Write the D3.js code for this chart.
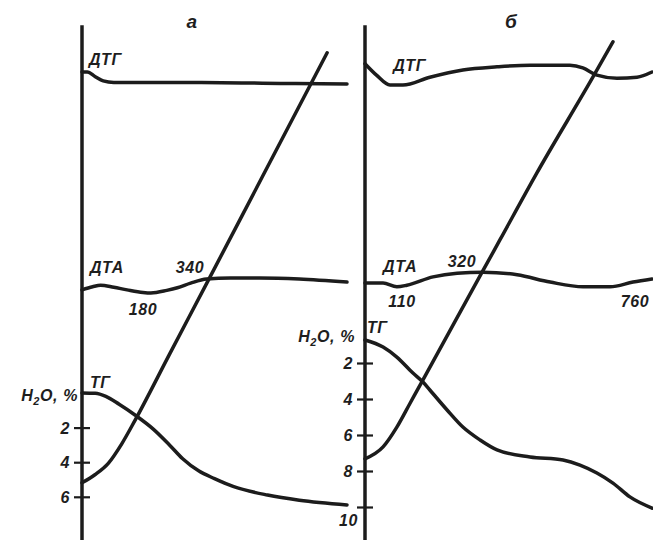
<!DOCTYPE html>
<html>
<head>
<meta charset="utf-8">
<script src="https://cdn.jsdelivr.net/npm/d3@7"></script>
<style>
    body { margin: 0; background: #fff; }
    svg text {
        font-family: "Liberation Sans", Arial, sans-serif;
        font-weight: bold;
        font-style: italic;
        font-size: 16px;
        fill: #1e1e1e;
        letter-spacing: 0.6px;
    }
</style>
</head>
<body>
<script>
// panel titles and curve names
var panelTitles = ["а", "б"];
var curveNames = ["ДТГ", "ДТА", "ТГ"];

// ticks of the water loss axis (H2O, %)
var tgTicksA = [2, 4, 6];
var tgTicksB = [2, 4, 6, 8, 10];

// temperatures of the DTA effects, °C
var dtaTempsA = [180, 340];
var dtaTempsB = [110, 320, 760];

// curves as [time, deflection], both in relative units 0-100
var dtgA = [[0, 90.0], [2, 90.0], [5, 89.1], [8, 88.3], [12, 88.0], [45, 88.0], [75, 87.8], [100, 87.7]];
var dtaA = [[0, 48.1], [4, 48.7], [7, 49.0], [12, 48.6], [17, 48.1], [23, 47.6], [26, 47.5], [32, 48.0],
            [36, 48.5], [41, 49.4], [47, 50.2], [56, 50.4], [67, 50.4], [82, 50.2], [100, 49.6]];
var heatA = [[0, 11.0], [5, 12.6], [10, 14.8], [15, 18.5], [20, 23.0], [33, 35.7], [47, 49.3],
             [68, 69.8], [92.5, 93.7]];
// TG curve as [time, H2O %]
var tgA = [[0, 0], [5, 0.02], [9, 0.2], [14, 0.65], [20, 1.27], [27, 2.1], [33, 3.0], [38, 3.8],
           [44, 4.5], [50, 4.95], [57, 5.4], [70, 5.9], [82, 6.2], [100, 6.47]];

var dtgB = [[0, 91.6], [4, 89.4], [8.7, 87.5], [13.2, 87.5], [22.6, 89.0], [34.1, 90.4], [46, 91.0],
            [57.5, 91.3], [71.4, 91.3], [75.9, 90.8], [80.8, 89.4], [87.8, 88.8], [94.8, 89.0], [100, 90.0]];
var dtaB = [[0, 49.4], [6.3, 49.4], [11.1, 48.7], [14.6, 49.0], [23.7, 50.6], [32.1, 51.3], [41.1, 51.5],
            [53, 51.0], [64.5, 49.6], [76, 48.7], [85.4, 48.7], [93.4, 49.6], [100, 50.2]];
var heatB = [[0, 15.6], [6.3, 17.9], [11.1, 21.7], [15.7, 26.3], [20.2, 30.8], [40.8, 51.5], [47, 57.7],
             [59.9, 70.6], [79.4, 89.0], [86.4, 95.8]];
var tgB = [[0, 0.72], [6.3, 1.11], [11.1, 1.67], [16.7, 2.56], [20.2, 3.06], [22.6, 3.5], [28.6, 4.61],
           [34.1, 5.56], [40.1, 6.28], [46, 6.83], [57.5, 7.22], [69, 7.39], [74.9, 7.67], [80.8, 8.11],
           [86.4, 8.67], [92.3, 9.44], [100, 10.06]];

var width = 653,
    height = 543,
    ink = "#1c1c1c";

var svg = d3.select("body").append("svg")
    .attr("width", width)
    .attr("height", height);

// shared vertical scale for the relative curves
var y = d3.scaleLinear().domain([0, 100]).range([540, 20]);

// layout of both panels (positions only)
var panels = [
    {
        title: panelTitles[0], titleT: 41.5,
        xRange: [82, 347], tgDomain: [0, 6], tgRange: [393, 496.8],
        ticks: tgTicksA, dtg: dtgA, dta: dtaA, heat: heatA, tg: tgA,
        dtgLabel: [2.6, 91.3], dtaLabel: [3.0, 51.3], tgLabel: [3.0, 29.2],
        temps: dtaTempsA, tempPos: [[23.0, 43.3], [40.8, 51.3]],
        unitDx: -4, unitDy: 8
    },
    {
        title: panelTitles[1], titleT: 50.9,
        xRange: [365, 652], tgDomain: [0, 10], tgRange: [327, 507],
        ticks: tgTicksB, dtg: dtgB, dta: dtaB, heat: heatB, tg: tgB,
        dtgLabel: [9.8, 90.2], dtaLabel: [6.3, 51.5], tgLabel: [0.7, 39.8],
        temps: dtaTempsB, tempPos: [[12.9, 44.8], [33.8, 52.5], [94.1, 44.8]],
        unitDx: -10, unitDy: 15
    }
];

panels.forEach(function(p) {
    var x = d3.scaleLinear().domain([0, 100]).range(p.xRange);
    var tg = d3.scaleLinear().domain(p.tgDomain).range(p.tgRange);
    var g = svg.append("g");

    var line = d3.line()
        .x(function(d) { return x(d[0]); })
        .y(function(d) { return y(d[1]); })
        .curve(d3.curveMonotoneX);
    var tgLine = d3.line()
        .x(function(d) { return x(d[0]); })
        .y(function(d) { return tg(d[1]); })
        .curve(d3.curveMonotoneX);

    // main vertical axis
    g.append("line")
        .attr("x1", x(0)).attr("x2", x(0))
        .attr("y1", y(0)).attr("y2", y(99))
        .attr("stroke", ink)
        .attr("stroke-width", 3.5);

    // H2O axis ticks crossing the main axis
    var axis = g.append("g")
        .attr("transform", "translate(" + x(0) + ",0)")
        .call(d3.axisLeft(tg).tickValues(p.ticks).tickFormat(d3.format("d"))
            .tickSize(8).tickPadding(4));
    axis.select(".domain").remove();
    axis.selectAll(".tick line")
        .attr("x1", 8)
        .attr("stroke", ink)
        .attr("stroke-width", 2.2);
    axis.selectAll(".tick text")
        .attr("fill", ink)
        .attr("x", function(d) { return d === 10 ? -7 : -12; })
        .attr("dy", function(d) { return d === 10 ? "1.15em" : "0.35em"; })
        .style("font-size", "16px")
        .style("font-family", null);

    // curves
    [p.dtg, p.dta, p.heat].forEach(function(data) {
        g.append("path")
            .datum(data)
            .attr("d", line)
            .attr("fill", "none")
            .attr("stroke", ink)
            .attr("stroke-width", 3.5)
            .attr("stroke-linecap", "round");
    });
    g.append("path")
        .datum(p.tg)
        .attr("d", tgLine)
        .attr("fill", "none")
        .attr("stroke", ink)
        .attr("stroke-width", 3.5)
        .attr("stroke-linecap", "round");

    // panel title
    g.append("text")
        .attr("x", x(p.titleT))
        .attr("y", 28)
        .attr("text-anchor", "middle")
        .style("font-size", "19px")
        .text(p.title);

    // curve names
    [[curveNames[0], p.dtgLabel], [curveNames[1], p.dtaLabel], [curveNames[2], p.tgLabel]].forEach(function(d) {
        g.append("text")
            .attr("x", x(d[1][0]))
            .attr("y", y(d[1][1]))
            .text(d[0]);
    });

    // DTA temperatures
    p.temps.forEach(function(t, i) {
        g.append("text")
            .attr("x", x(p.tempPos[i][0]))
            .attr("y", y(p.tempPos[i][1]))
            .attr("text-anchor", "middle")
            .text(t);
    });

    // unit label of the TG axis
    var unit = g.append("text")
        .attr("x", x(0) + p.unitDx)
        .attr("y", tg(0) + p.unitDy)
        .attr("text-anchor", "end");
    unit.append("tspan").text("H");
    unit.append("tspan").attr("dy", 4).style("font-size", "11px").text("2");
    unit.append("tspan").attr("dy", -4).text("O, %");
});
</script>
</body>
</html>
